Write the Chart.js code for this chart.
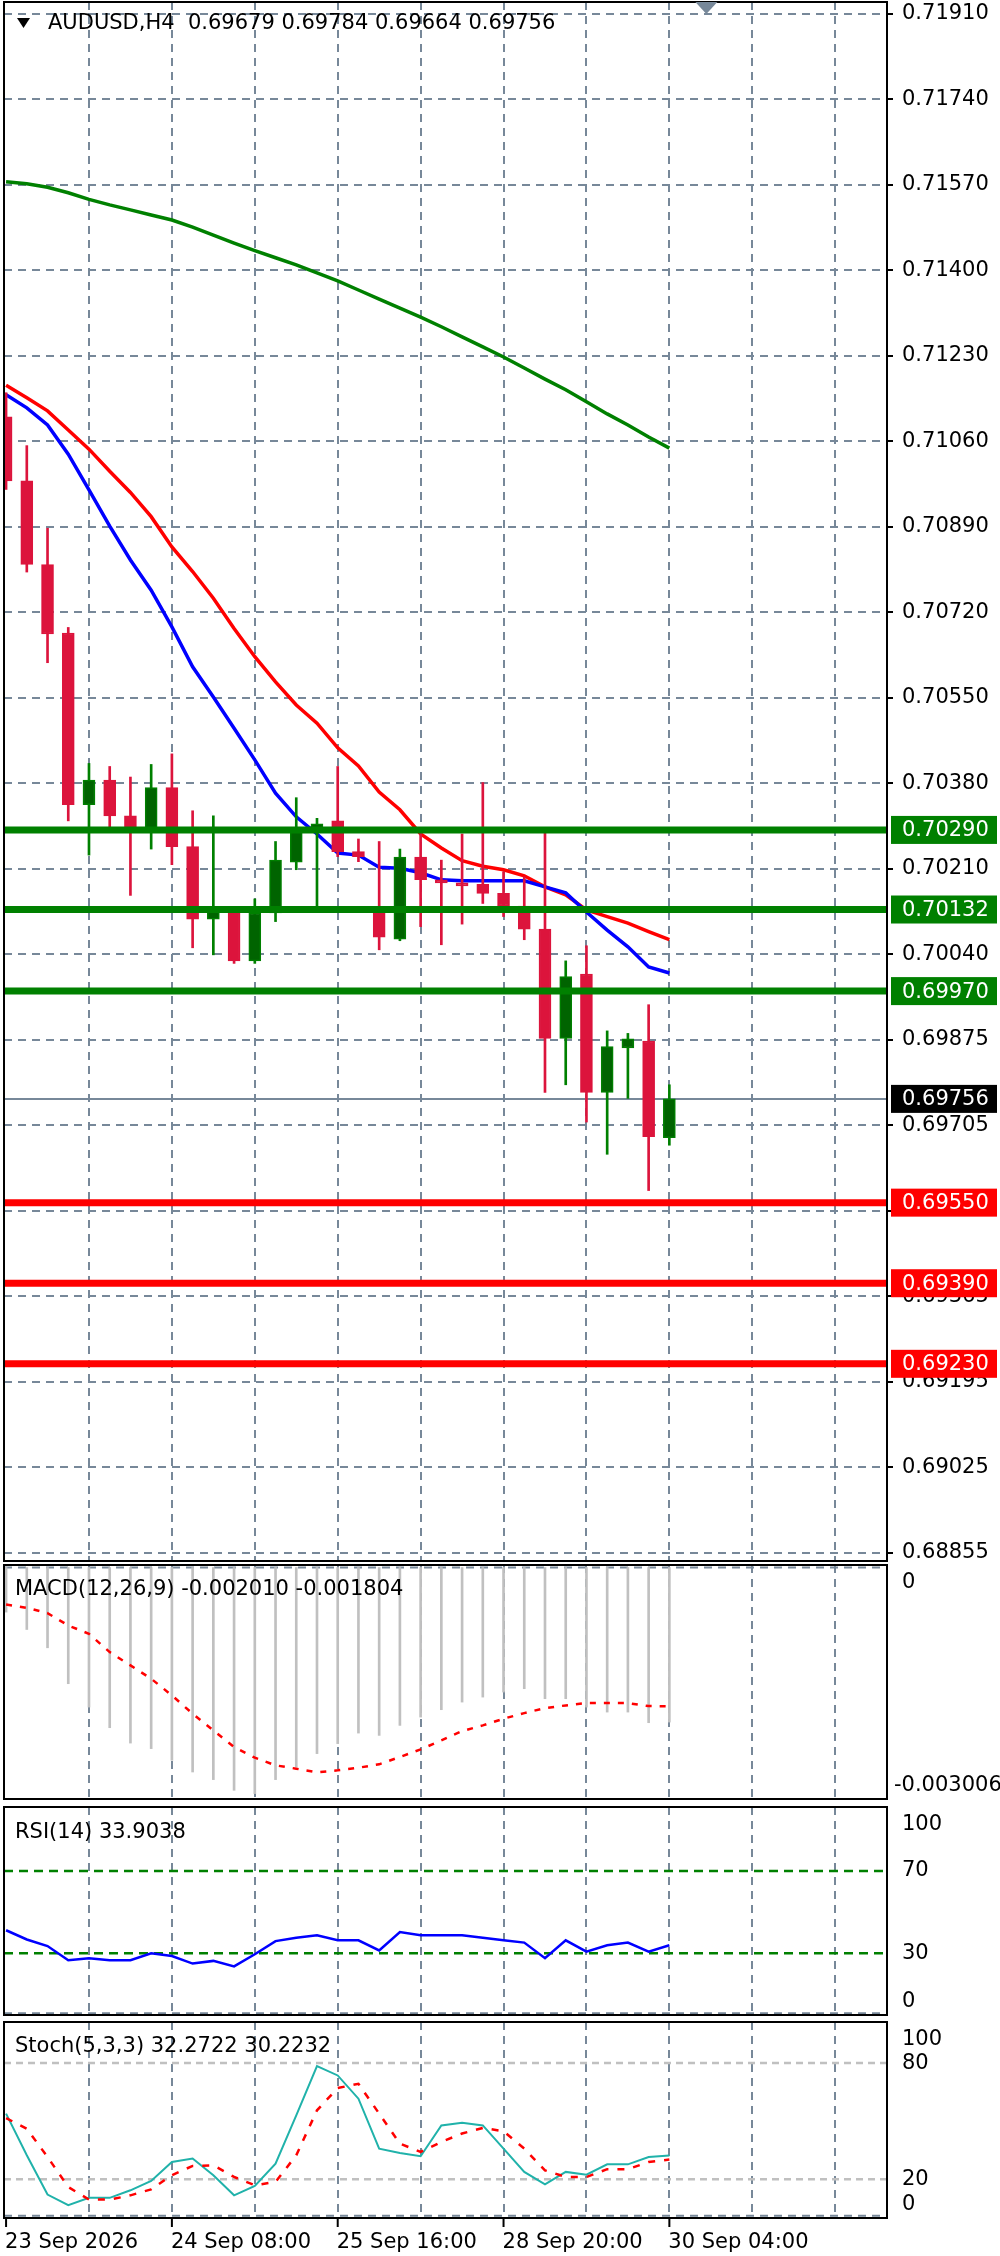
<!DOCTYPE html>
<html>
<head>
<meta charset="utf-8">
<title>AUDUSD H4</title>
<script src="https://cdn.jsdelivr.net/npm/chart.js@4.4.1/dist/chart.umd.min.js"></script>
<style>
  html, body { margin: 0; padding: 0; background: #fff; }
  #wrap { position: relative; width: 1000px; height: 2256px; overflow: hidden; }
  #wrap canvas { position: absolute; left: 0; }
</style>
</head>
<body>
<div id="wrap">
  <canvas id="mainChart" width="1000" height="1563" style="top:0px"></canvas>
  <canvas id="macdChart" width="1000" height="238" style="top:1563px"></canvas>
  <canvas id="rsiChart" width="1000" height="217" style="top:1801px"></canvas>
  <canvas id="stochChart" width="1000" height="238" style="top:2018px"></canvas>
</div>
<script>
// H4 bars, index 0 = 23 Sep 2026 00:00
const timeLabels = ['23 Sep 2026', '24 Sep 08:00', '25 Sep 16:00', '28 Sep 20:00', '30 Sep 04:00'];
const timeLabelBars = [0, 8, 16, 24, 32];

const opens  = [0.71110, 0.70983, 0.70817, 0.70681, 0.70340, 0.70389, 0.70318, 0.70293, 0.70374, 0.70257,
                0.70113, 0.70128, 0.70030, 0.70125, 0.70226, 0.70293, 0.70308, 0.70247, 0.70132, 0.70073,
                0.70236, 0.70191, 0.70185, 0.70182, 0.70164, 0.70139, 0.70093, 0.69876, 0.70004, 0.69769,
                0.69857, 0.69871, 0.69679];
const highs  = [0.71158, 0.71053, 0.70889, 0.70692, 0.70422, 0.70416, 0.70395, 0.70420, 0.70441, 0.70328,
                0.70318, 0.70131, 0.70153, 0.70267, 0.70354, 0.70313, 0.70416, 0.70272, 0.70267, 0.70252,
                0.70283, 0.70230, 0.70282, 0.70384, 0.70207, 0.70197, 0.70283, 0.70030, 0.70060, 0.69891,
                0.69886, 0.69943, 0.69784];
const lows   = [0.70966, 0.70802, 0.70622, 0.70308, 0.70240, 0.70288, 0.70160, 0.70252, 0.70221, 0.70056,
                0.70042, 0.70025, 0.70025, 0.70108, 0.70211, 0.70138, 0.70237, 0.70227, 0.70052, 0.70070,
                0.70098, 0.70062, 0.70103, 0.70144, 0.70118, 0.70072, 0.69769, 0.69784, 0.69710, 0.69646,
                0.69757, 0.69574, 0.69664];
const closes = [0.70983, 0.70817, 0.70679, 0.70340, 0.70389, 0.70318, 0.70288, 0.70374, 0.70257, 0.70113,
                0.70128, 0.70030, 0.70125, 0.70230, 0.70293, 0.70302, 0.70247, 0.70237, 0.70077, 0.70236,
                0.70191, 0.70185, 0.70179, 0.70164, 0.70139, 0.70093, 0.69876, 0.69999, 0.69769, 0.69860,
                0.69875, 0.69681, 0.69756];

const maBlue  = [0.71154, 0.71128, 0.71094, 0.71036, 0.70965, 0.70893, 0.70826, 0.70766, 0.70693, 0.70614,
                 0.70554, 0.70492, 0.70429, 0.70363, 0.70316, 0.70282, 0.70244, 0.70240, 0.70216, 0.70214,
                 0.70205, 0.70191, 0.70189, 0.70189, 0.70189, 0.70189, 0.70177, 0.70165, 0.70127, 0.70091,
                 0.70058, 0.70018, 0.70006];
const maRed   = [0.71173, 0.71148, 0.71122, 0.71084, 0.71046, 0.71002, 0.70960, 0.70912, 0.70852, 0.70803,
                 0.70750, 0.70690, 0.70634, 0.70584, 0.70538, 0.70502, 0.70453, 0.70417, 0.70365, 0.70330,
                 0.70282, 0.70254, 0.70229, 0.70218, 0.70211, 0.70199, 0.70177, 0.70161, 0.70131, 0.70118,
                 0.70105, 0.70088, 0.70072];
const maGreen = [0.71577, 0.71573, 0.71566, 0.71555, 0.71542, 0.71531, 0.71521, 0.71511, 0.71501, 0.71487,
                 0.71471, 0.71455, 0.71440, 0.71426, 0.71412, 0.71396, 0.71380, 0.71362, 0.71344, 0.71326,
                 0.71308, 0.71289, 0.71269, 0.71249, 0.71229, 0.71207, 0.71185, 0.71164, 0.71140, 0.71116,
                 0.71094, 0.71070, 0.71048];

const greenLevels = [0.70290, 0.70132, 0.69970];
const redLevels = [0.69550, 0.69390, 0.69230];
const bidPrice = 0.69756;

const priceTicks = ['0.71910', '0.71740', '0.71570', '0.71400', '0.71230', '0.71060', '0.70890', '0.70720',
                    '0.70550', '0.70380', '0.70210', '0.70040', '0.69875', '0.69705', '0.69535', '0.69365',
                    '0.69195', '0.69025', '0.68855'];

const macdHist = [-0.000580, -0.000806, -0.001044, -0.001511, -0.001815, -0.002083, -0.002283, -0.002355,
                  -0.002507, -0.002659, -0.002758, -0.002897, -0.002940, -0.002758, -0.002594, -0.002420,
                  -0.002290, -0.002153, -0.002183, -0.002053, -0.001945, -0.001849, -0.001750, -0.001685,
                  -0.001620, -0.001576, -0.001706, -0.001706, -0.001815, -0.001880, -0.001880, -0.002018,
                  -0.002010];
const macdSignal = [-0.000481, -0.000524, -0.000594, -0.000754, -0.000862, -0.001100, -0.001273, -0.001446,
                    -0.001663, -0.001901, -0.002118, -0.002335, -0.002473, -0.002572, -0.002616, -0.002663,
                    -0.002637, -0.002603, -0.002559, -0.002464, -0.002365, -0.002248, -0.002127, -0.002053,
                    -0.001966, -0.001893, -0.001828, -0.001793, -0.001763, -0.001763, -0.001763, -0.001802,
                    -0.001804];
const macdTicks = [[0, '0'], [-0.003006, '-0.003006']];

const rsi = [41.2, 36.7, 33.5, 26.6, 27.6, 26.6, 26.6, 30.0, 28.7, 25.0, 26.3, 23.6, 29.5, 35.9, 37.6, 38.8,
             36.3, 36.3, 31.4, 40.3, 38.8, 38.8, 38.8, 37.6, 36.3, 35.2, 27.6, 36.3, 30.8, 33.9, 35.2, 30.8, 33.9];
const rsiTicks = [[100, '100'], [70, '70'], [30, '30'], [0, '0']];

const stochMain = [53.9, 32.4, 12.1, 6.6, 10.4, 10.4, 14.3, 19.1, 28.9, 30.7, 22.1, 11.7, 16.6, 28.1, 53.0, 78.4,
                   73.6, 61.6, 35.8, 33.6, 31.9, 47.8, 49.2, 47.8, 35.8, 23.8, 17.4, 23.8, 22.4, 27.7, 27.7, 31.5, 32.3];
const stochSignal = [51.6, 46.1, 31.5, 16.0, 9.5, 9.5, 11.7, 14.8, 22.1, 26.9, 27.2, 21.2, 16.9, 18.6, 32.4, 55.6,
                     67.1, 69.3, 53.9, 38.4, 34.1, 39.3, 43.6, 46.5, 44.8, 35.8, 24.6, 21.2, 21.2, 25.2, 25.2, 28.9, 30.2];
const stochTicks = [[100, '100'], [80, '80'], [20, '20'], [0, '0']];

const FONT = '21px "DejaVu Sans"';
const GRID = '#778899';
const BULL = '#008000', BULL_BODY = '#006400', BEAR = '#DC143C';

const bars = closes.map((c, i) => i);
const pts = arr => arr.map((v, i) => ({x: i, y: v}));

function line(ctx, x1, y1, x2, y2, color, width, dash) {
  ctx.save();
  ctx.strokeStyle = color;
  ctx.lineWidth = width;
  ctx.setLineDash(dash || []);
  ctx.beginPath();
  ctx.moveTo(x1, y1);
  ctx.lineTo(x2, y2);
  ctx.stroke();
  ctx.restore();
}

function text(ctx, str, x, y, color) {
  ctx.save();
  ctx.font = FONT;
  ctx.fillStyle = color;
  ctx.textAlign = 'left';
  ctx.textBaseline = 'middle';
  ctx.fillText(str, x, y);
  ctx.restore();
}

function frame(chart) {
  const a = chart.chartArea, ctx = chart.ctx;
  ctx.save();
  ctx.strokeStyle = '#000';
  ctx.lineWidth = 2;
  ctx.strokeRect(a.left, a.top, a.right - a.left, a.bottom - a.top);
  ctx.restore();
}

function hLevel(chart, v, color, width, dash) {
  const a = chart.chartArea, y = chart.scales.y.getPixelForValue(v);
  line(chart.ctx, a.left, y, a.right, y, color, width, dash);
}

function priceBox(chart, v, bg, str) {
  const a = chart.chartArea, y = chart.scales.y.getPixelForValue(v), ctx = chart.ctx;
  ctx.save();
  ctx.fillStyle = bg;
  ctx.fillRect(a.right + 4, y - 14, 106, 28);
  ctx.restore();
  text(ctx, str, a.right + 15, y + 1, '#fff');
}

// MT4 writes the top value under its line and the bottom value above it
function axisLabels(chart, list) {
  const a = chart.chartArea, s = chart.scales.y;
  list.forEach(([v, str]) => {
    let y = s.getPixelForValue(v);
    if (y - a.top < 12) y += 15;
    else if (a.bottom - y < 12) y -= 13;
    const x = str.length > 5 ? a.right + 7 : a.right + 15;
    text(chart.ctx, str, x, y, '#000');
  });
}

function xAxis() {
  return {
    type: 'linear', min: -0.1, max: 42.5, offset: false,
    afterBuildTicks: ax => {
      ax.ticks = [];
      for (let v = 4; v < 42.5; v += 4) ax.ticks.push({value: v});
    },
    afterFit: ax => { ax.height = 0; ax.paddingLeft = 0; ax.paddingRight = 0; },
    ticks: {display: false},
    grid: {display: true, color: GRID, lineWidth: 2, drawTicks: false, offset: false},
    border: {display: false, dash: [8, 6]}
  };
}

function sideAxis(min, max) {
  return {
    position: 'right', min: min, max: max, beginAtZero: false,
    afterFit: ax => { ax.width = 113; ax.paddingTop = 0; ax.paddingBottom = 0; },
    ticks: {display: false},
    grid: {display: false},
    border: {display: false}
  };
}

const common = {
  responsive: false, animation: false, devicePixelRatio: 1, events: [],
  plugins: {legend: {display: false}, tooltip: {enabled: false}}
};

// ---------- main price window ----------
const bodyColors = bars.map(i => closes[i] >= opens[i] ? BULL_BODY : BEAR);
const edgeColors = bars.map(i => closes[i] >= opens[i] ? BULL : BEAR);
const last = closes.length - 1;

const mainDeco = {
  id: 'mainDeco',
  beforeDatasetsDraw(chart) {
    hLevel(chart, bidPrice, GRID, 2);
  },
  afterDatasetsDraw(chart) {
    greenLevels.forEach(v => hLevel(chart, v, '#008000', 7));
    redLevels.forEach(v => hLevel(chart, v, '#FF0000', 7));
  },
  afterDraw(chart) {
    const ctx = chart.ctx, a = chart.chartArea;
    frame(chart);
    greenLevels.forEach(v => priceBox(chart, v, '#008000', v.toFixed(5)));
    redLevels.forEach(v => priceBox(chart, v, '#FF0000', v.toFixed(5)));
    priceBox(chart, bidPrice, '#000', bidPrice.toFixed(5));
    // title
    ctx.save();
    ctx.fillStyle = '#000';
    ctx.beginPath();
    ctx.moveTo(a.left + 13, a.top + 16);
    ctx.lineTo(a.left + 26, a.top + 16);
    ctx.lineTo(a.left + 19.5, a.top + 26);
    ctx.closePath();
    ctx.fill();
    // chart shift marker
    const sx = chart.scales.x.getPixelForValue(last) + 37;
    ctx.fillStyle = GRID;
    ctx.beginPath();
    ctx.moveTo(sx - 11, a.top);
    ctx.lineTo(sx + 11, a.top);
    ctx.lineTo(sx, a.top + 12);
    ctx.closePath();
    ctx.fill();
    ctx.restore();
    text(ctx, 'AUDUSD,H4  ' + [opens[last], highs[last], lows[last], closes[last]].map(v => v.toFixed(5)).join(' '),
         a.left + 44, a.top + 22, '#000');
  }
};

new Chart(document.getElementById('mainChart'), {
  type: 'line',
  data: {
    datasets: [
      {type: 'bar', data: bars.map(i => ({x: i, y: [opens[i], closes[i]]})), backgroundColor: bodyColors,
       borderColor: edgeColors, borderWidth: 1.5, borderSkipped: false, barThickness: 12, grouped: false, order: 0},
      {type: 'bar', data: bars.map(i => ({x: i, y: [lows[i], highs[i]]})), backgroundColor: edgeColors,
       borderWidth: 0, barThickness: 2, grouped: false, order: 1},
      {data: pts(maBlue), borderColor: '#0000FF', borderWidth: 3.5, pointRadius: 0, tension: 0, order: 2},
      {data: pts(maRed), borderColor: '#FF0000', borderWidth: 3.5, pointRadius: 0, tension: 0, order: 2},
      {data: pts(maGreen), borderColor: '#008000', borderWidth: 3.5, pointRadius: 0, tension: 0, order: 2}
    ]
  },
  options: Object.assign({}, common, {
    layout: {padding: {left: 4, top: 2, right: 0, bottom: 2}},
    scales: {
      x: xAxis(),
      y: {
        position: 'right', min: 0.688385, max: 0.719338, beginAtZero: false,
        afterBuildTicks: ax => {
          const top = parseFloat(priceTicks[0]), bottom = parseFloat(priceTicks[priceTicks.length - 1]);
          ax.ticks = priceTicks.map((s, i) => ({value: top + (bottom - top) * i / (priceTicks.length - 1)}));
        },
        afterFit: ax => { ax.width = 113; ax.paddingTop = 0; ax.paddingBottom = 0; },
        ticks: {
          callback: (v, i) => priceTicks[i], autoSkip: false, padding: 9, color: '#000',
          font: {family: 'DejaVu Sans', size: 21}
        },
        grid: {color: GRID, lineWidth: 2, drawTicks: true, tickLength: 6, tickColor: '#000', tickWidth: 2},
        border: {display: false, dash: [8, 6]}
      }
    }
  }),
  plugins: [mainDeco]
});

// ---------- MACD ----------
new Chart(document.getElementById('macdChart'), {
  type: 'line',
  data: {
    datasets: [
      {data: pts(macdSignal), borderColor: '#FF0000', borderWidth: 2.5, borderDash: [6, 8], pointRadius: 0, order: 0},
      {type: 'bar', data: pts(macdHist), backgroundColor: '#C0C0C0', borderWidth: 0, barThickness: 2, grouped: false, order: 1}
    ]
  },
  options: Object.assign({}, common, {
    layout: {padding: {left: 4, top: 2, right: 0, bottom: 2}},
    scales: {x: xAxis(), y: sideAxis(-0.00301, 0.0000325)}
  }),
  plugins: [{
    id: 'macdDeco',
    beforeDatasetsDraw(chart) { hLevel(chart, 0, GRID, 2, [8, 6]); },
    afterDraw(chart) {
      frame(chart);
      axisLabels(chart, macdTicks);
      text(chart.ctx, 'MACD(12,26,9) -0.002010 -0.001804', 15, chart.chartArea.top + 25, '#000');
    }
  }]
});

// ---------- RSI ----------
new Chart(document.getElementById('rsiChart'), {
  type: 'line',
  data: {datasets: [{data: pts(rsi), borderColor: '#0000FF', borderWidth: 2.5, pointRadius: 0}]},
  options: Object.assign({}, common, {
    layout: {padding: {left: 4, top: 6, right: 0, bottom: 3}},
    scales: {x: xAxis(), y: sideAxis(0, 101.1)}
  }),
  plugins: [{
    id: 'rsiDeco',
    beforeDatasetsDraw(chart) {
      hLevel(chart, 70, '#008000', 2.5, [9, 6]);
      hLevel(chart, 30, '#008000', 2.5, [9, 6]);
      hLevel(chart, 0.8, GRID, 2, [8, 6]);
    },
    afterDraw(chart) {
      frame(chart);
      axisLabels(chart, rsiTicks);
      text(chart.ctx, 'RSI(14) 33.9038', 15, chart.chartArea.top + 26, '#000');
    }
  }]
});

// ---------- Stochastic + time axis ----------
new Chart(document.getElementById('stochChart'), {
  type: 'line',
  data: {
    datasets: [
      {data: pts(stochSignal), borderColor: '#FF0000', borderWidth: 2.5, borderDash: [7, 9], pointRadius: 0, order: 0},
      {data: pts(stochMain), borderColor: '#20B2AA', borderWidth: 2, pointRadius: 0, order: 1}
    ]
  },
  options: Object.assign({}, common, {
    layout: {padding: {left: 4, top: 4, right: 0, bottom: 38}},
    scales: {x: xAxis(), y: sideAxis(0, 101.2)}
  }),
  plugins: [{
    id: 'stochDeco',
    beforeDatasetsDraw(chart) {
      hLevel(chart, 80, '#C0C0C0', 2.5, [7, 5]);
      hLevel(chart, 20, '#C0C0C0', 2.5, [7, 5]);
      hLevel(chart, 1.2, GRID, 2, [8, 6]);
    },
    afterDraw(chart) {
      const a = chart.chartArea, ctx = chart.ctx;
      frame(chart);
      axisLabels(chart, stochTicks);
      text(ctx, 'Stoch(5,3,3) 32.2722 30.2232', 15, a.top + 25, '#000');
      timeLabelBars.forEach((b, i) => {
        const x = chart.scales.x.getPixelForValue(b);
        line(ctx, x, a.bottom + 1, x, a.bottom + 9, '#000', 2);
        text(ctx, timeLabels[i], x - 1, a.bottom + 25, '#000');
      });
    }
  }]
});
</script>
</body>
</html>
